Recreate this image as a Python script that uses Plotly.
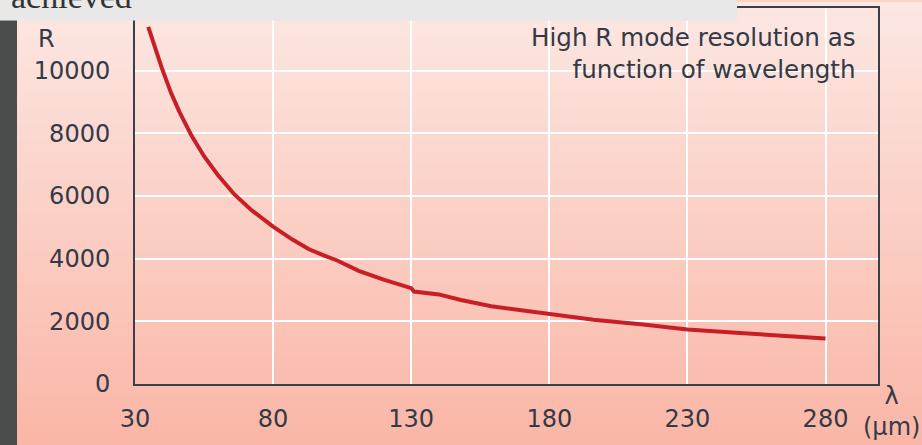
import plotly.graph_objects as go

# Data
wavelength_um = [34.8, 37, 39.7, 43, 46, 50.5, 55, 60, 66, 72, 80, 87, 93, 99, 103,
                 111, 120, 130, 131, 140, 148, 159, 170, 180, 196, 214, 230, 249, 267, 280]
resolution_R = [11400, 10800, 10090, 9300, 8700, 7920, 7270, 6670, 6050, 5560, 5020,
                4610, 4300, 4080, 3950, 3610, 3330, 3060, 2950, 2860, 2680, 2480, 2350,
                2210, 2050, 1900, 1740, 1630, 1525, 1450]
x_ticks = [30, 80, 130, 180, 230, 280]
y_ticks = [0, 2000, 4000, 6000, 8000, 10000]

W, H = 922, 445
ML, MR, MT, MB = 135, 44, 6, 61
PW, PH = W - ML - MR, H - MT - MB

def px(x):
    return (x - ML) / PW

def py(y):
    return (H - MB - y) / PH

fig = go.Figure()
fig.add_trace(go.Scatter(x=wavelength_um, y=resolution_R, mode="lines",
                         line=dict(color="#c81e26", width=4), hoverinfo="skip"))

shapes = []
# vertical gradient background
top_c = (252, 231, 227)
bot_c = (250, 182, 166)
N = 80
for i in range(N):
    t = (i + 0.5) / N
    c = tuple(round(top_c[k] + (bot_c[k] - top_c[k]) * t) for k in range(3))
    y0 = H * i / N
    y1 = H * (i + 1) / N + 1
    shapes.append(dict(type="rect", xref="paper", yref="paper", layer="below",
                       x0=px(0), x1=px(W), y0=py(y1), y1=py(y0),
                       fillcolor="rgb(%d,%d,%d)" % c, line=dict(width=0)))
# dark strip on the left
shapes.append(dict(type="rect", xref="paper", yref="paper", layer="above",
                   x0=px(-2), x1=px(17), y0=py(H + 2), y1=py(18),
                   fillcolor="#4b4d4d", line=dict(width=0)))
# light grey band at top
shapes.append(dict(type="rect", xref="paper", yref="paper", layer="above",
                   x0=px(-2), x1=px(737), y0=py(18.5), y1=py(-2),
                   fillcolor="#e8e8e8", line=dict(width=0)))

txt = "#333a46"
font = "DejaVu Sans, Verdana, sans-serif"
FS = 24
annotations = [
    dict(text="achieved", xref="paper", yref="paper", x=px(9), y=py(15),
         xanchor="left", yanchor="bottom", showarrow=False,
         font=dict(family="Liberation Serif, Times New Roman, serif", size=34, color="#333333")),
    dict(text="R", xref="paper", yref="paper", x=px(46), y=py(37),
         xanchor="center", yanchor="middle", showarrow=False,
         font=dict(family=font, size=FS, color=txt)),
    dict(text="High R mode resolution as<br>function of wavelength", xref="paper", yref="paper",
         x=px(858), y=py(19), xanchor="right", yanchor="top", align="right", showarrow=False,
         font=dict(family=font, size=24.6, color=txt)),
    dict(text="λ<br>(μm)", xref="paper", yref="paper",
         x=px(891), y=py(380), xanchor="center", yanchor="top", align="center", showarrow=False,
         font=dict(family=font, size=FS, color=txt)),
]

fig.update_layout(
    width=W, height=H,
    margin=dict(l=ML, r=MR, t=MT, b=MB, pad=0),
    paper_bgcolor="#fbd3c9", plot_bgcolor="rgba(0,0,0,0)",
    showlegend=False, shapes=shapes, annotations=annotations,
    font=dict(family=font, size=FS, color=txt),
)
fig.update_xaxes(range=[30, 299], tickvals=x_ticks, showgrid=True, gridcolor="white",
                 gridwidth=1.5, zeroline=False, showline=True, linecolor="#3a3f4a", linewidth=2,
                 mirror=True, ticks="outside", ticklen=12, tickcolor="rgba(0,0,0,0)",
                 tickfont=dict(family=font, size=FS, color=txt))
fig.update_yaxes(range=[0, 12000], tickvals=y_ticks, showgrid=True, gridcolor="white",
                 gridwidth=1.5, zeroline=False, showline=True, linecolor="#3a3f4a", linewidth=2,
                 mirror=True, ticks="outside", ticklen=18, tickcolor="rgba(0,0,0,0)",
                 tickformat="d", tickfont=dict(family=font, size=FS, color=txt))

fig.write_html("out.html", config={"displayModeBar": False},
               post_script="document.body.style.margin='0';document.body.style.overflow='hidden';")
